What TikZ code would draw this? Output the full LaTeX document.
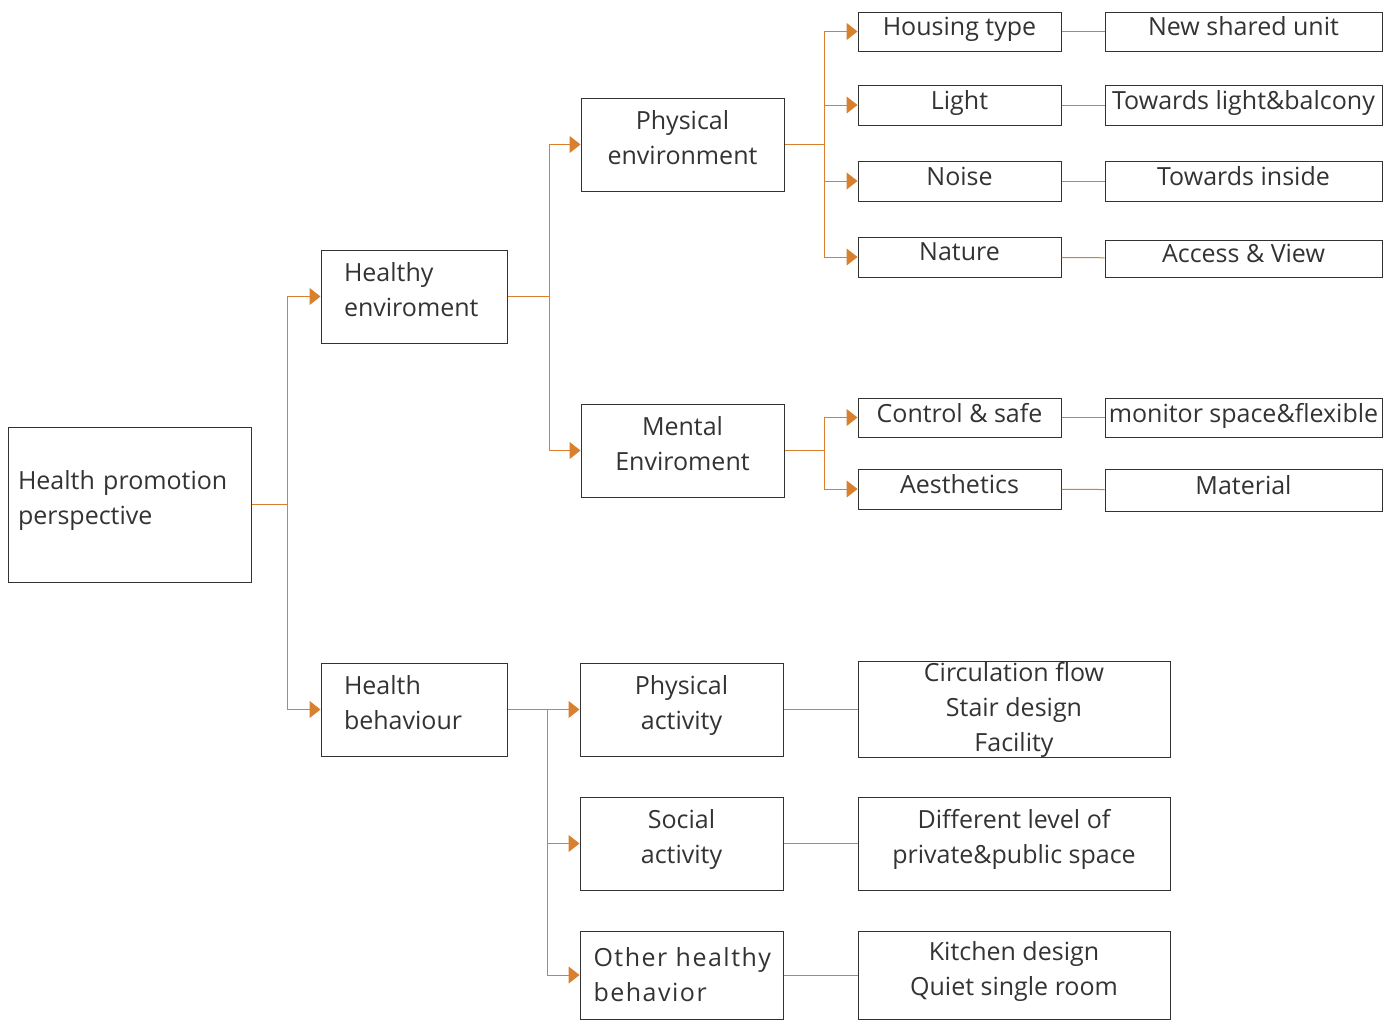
\documentclass[tikz,border=0pt]{standalone}
\usepackage{fontspec}
\setmainfont{Open Sans}
\usetikzlibrary{arrows.meta}
\definecolor{linkorange}{RGB}{217,128,46}
\definecolor{boxgray}{RGB}{50,50,50}
\begin{document}
\begin{tikzpicture}[x=1pt,y=-1pt]
\tikzstyle{every node}+=[font=\fontsize{25}{35}\selectfont,text=black!80]
\tikzstyle{box}=[draw=boxgray,line width=1pt,inner sep=0pt,align=center]
\tikzstyle{lift}=[text depth=14pt]
\tikzstyle{liftsmall}=[text depth=10pt]
\tikzstyle{liftleft}=[text depth=50pt]
\tikzstyle{link}=[draw=linkorange,line width=1pt]
\tikzstyle{arr}=[link,-{Triangle[length=11pt,width=17pt]}]
\useasboundingbox (0,0) rectangle (1394,1020);
% level 1 and 2
\node [box,liftleft,minimum width=243,minimum height=155,text width=223,align=left] (root) at (129.5,504.5) {Health promotion\\perspective};
\node [box,liftleft,minimum width=186,minimum height=93,text width=140,align=left] (env) at (414,296.5) {Healthy\\enviroment};
\node [box,liftleft,minimum width=186,minimum height=93,text width=140,align=left] (beh) at (414,709.5) {Health\\behaviour};
% level 3
\node [box,lift,minimum width=203,minimum height=93] (phys) at (682.5,144.5) {Physical\\environment};
\node [box,lift,minimum width=203,minimum height=93] (ment) at (682.5,450.5) {Mental\\Enviroment};
\node [box,lift,minimum width=203,minimum height=93] (pact) at (681.5,709.5) {Physical\\activity};
\node [box,lift,minimum width=203,minimum height=93] (sact) at (681.5,843.5) {Social\\activity};
\node [box,minimum width=203,minimum height=88,text width=176,align=left] (oth) at (681.5,975) {\addfontfeature{LetterSpace=6}\mbox{Other healthy}\\behavior};
% level 4
\node [box,liftsmall,minimum width=203,minimum height=39] (house) at (959.5,31.5) {Housing type};
\node [box,liftsmall,minimum width=203,minimum height=40] (light) at (959.5,105) {Light};
\node [box,liftsmall,minimum width=203,minimum height=40] (noise) at (959.5,181) {Noise};
\node [box,liftsmall,minimum width=203,minimum height=40] (nat) at (959.5,257) {Nature};
\node [box,liftsmall,minimum width=203,minimum height=39] (ctrl) at (959.5,417.5) {Control \& safe};
\node [box,liftsmall,minimum width=203,minimum height=40] (aest) at (959.5,489) {Aesthetics};
\node [box,minimum width=312,minimum height=93] (circ) at (1014,709.5) {Circulation flow\\Stair design\\Facility};
\node [box,lift,minimum width=312,minimum height=93] (lvl) at (1014,843.5) {Different level of\\private\&public space};
\node [box,lift,minimum width=312,minimum height=88] (kit) at (1014,975) {Kitchen design\\Quiet single room};
% level 5
\node [box,liftsmall,minimum width=277,minimum height=39] (unit) at (1243.5,31.5) {New shared unit};
\node [box,liftsmall,minimum width=277,minimum height=40] (balc) at (1243.5,105) {Towards light\&balcony};
\node [box,liftsmall,minimum width=277,minimum height=40] (ins) at (1243.5,181) {Towards inside};
\node [box,liftsmall,minimum width=277,minimum height=37] (view) at (1243.5,258.5) {Access \& View};
\node [box,liftsmall,minimum width=277,minimum height=39] (mon) at (1243.5,417.5) {monitor space\&flexible};
\node [box,liftsmall,minimum width=277,minimum height=42] (mat) at (1243.5,490) {Material};
% branch points
\coordinate (b1) at (287,504.5);
\coordinate (b2) at (549,296.5);
\coordinate (b3) at (547,709.5);
\coordinate (b4) at (824,144.5);
\coordinate (b5) at (824,450.5);
% connectors
\draw [link] (root.east) -- (b1);
\draw [arr] (b1) |- (env.west);
\draw [arr] (b1) |- (beh.west);
\draw [link] (env.east) -- (b2);
\draw [arr] (b2) |- (phys.west);
\draw [arr] (b2) |- (ment.west);
\draw [link] (beh.east) -- (b3);
\draw [arr] (b3) |- (pact.west);
\draw [arr] (b3) |- (sact.west);
\draw [arr] (b3) |- (oth.west);
\draw [link] (phys.east) -- (b4);
\draw [arr] (b4) |- (house.west);
\draw [arr] (b4) |- (light.west);
\draw [arr] (b4) |- (noise.west);
\draw [arr] (b4) |- (nat.west);
\draw [link] (ment.east) -- (b5);
\draw [arr] (b5) |- (ctrl.west);
\draw [arr] (b5) |- (aest.west);
\draw [link] (house) -- (unit);
\draw [link] (light) -- (balc);
\draw [link] (noise) -- (ins);
\draw [link] (nat) -- (view);
\draw [link] (ctrl) -- (mon);
\draw [link] (aest) -- (mat);
\draw [link] (pact) -- (circ);
\draw [link] (sact) -- (lvl);
\draw [link] (oth) -- (kit);
\end{tikzpicture}
\end{document}
